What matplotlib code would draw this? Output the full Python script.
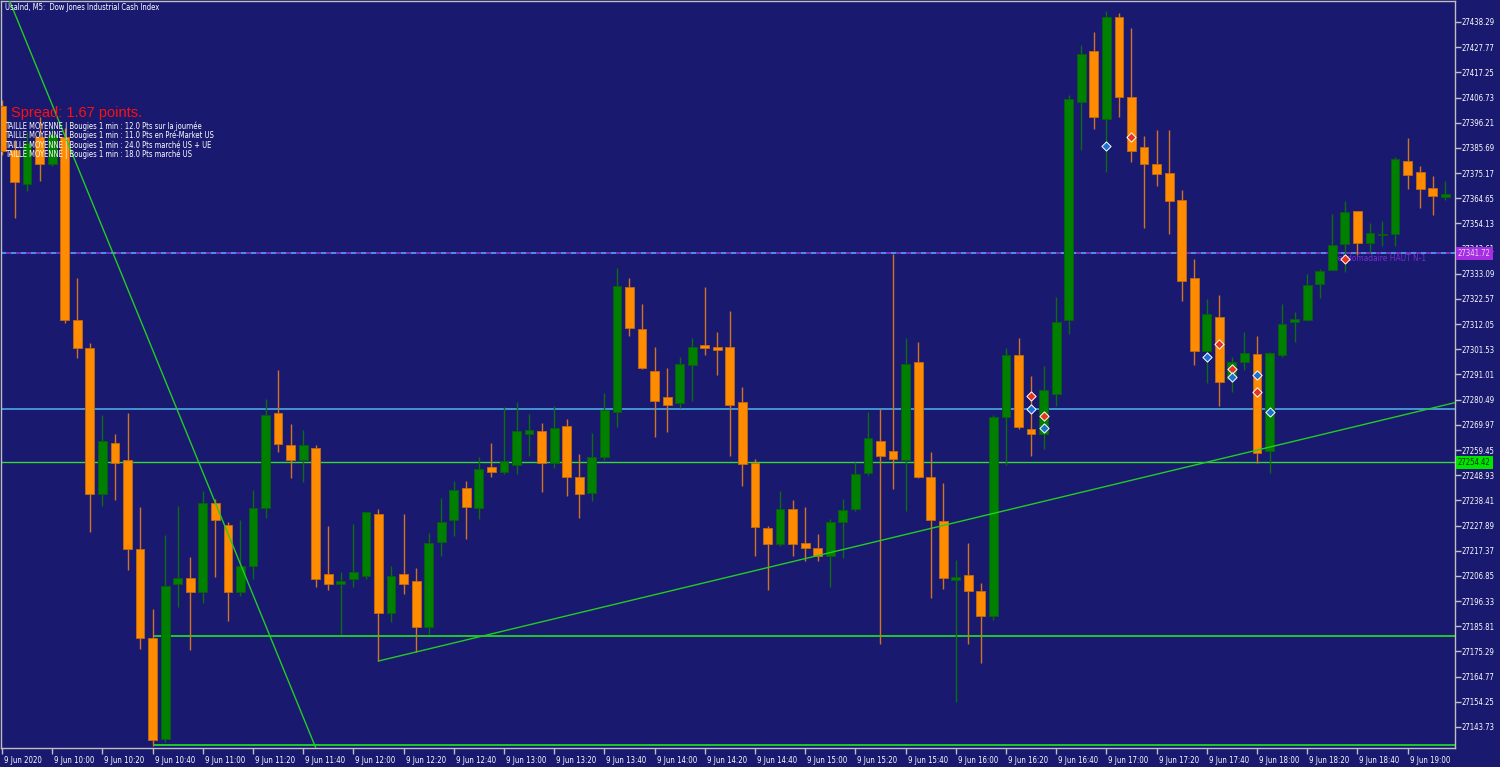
import matplotlib
matplotlib.use('agg')
import matplotlib.pyplot as plt
import matplotlib.transforms as mtransforms
import numpy as np
import pandas as pd

# UsaInd M5 - 9 juin 2020, bougies de 09:40 a 19:15
bar_times = pd.date_range('2020-06-09 09:40', periods=116, freq='5min')

opens = [27403.2, 27384.8, 27370.6, 27390.2, 27379.0, 27390.2, 27313.8, 27302.1, 27241.1, 27262.4,
         27255.3, 27218.1, 27180.9, 27138.7, 27203.5, 27206.0, 27200.1, 27237.3, 27228.1, 27200.1,
         27211.0, 27235.2, 27274.9, 27261.6, 27255.3, 27260.3, 27207.7, 27203.5, 27205.6, 27206.8,
         27232.7, 27191.4, 27207.7, 27204.7, 27185.5, 27221.0, 27230.2, 27243.6, 27235.2, 27252.4,
         27250.3, 27253.2, 27266.1, 27267.4, 27254.0, 27269.5, 27248.2, 27241.5, 27256.5, 27275.3,
         27327.6, 27310.0, 27292.5, 27281.6, 27279.1, 27295.0, 27303.3, 27302.5, 27302.5, 27279.5,
         27254.0, 27226.9, 27220.2, 27234.8, 27220.6, 27218.5, 27215.2, 27229.4, 27234.8, 27249.9,
         27263.2, 27259.0, 27255.3, 27296.2, 27248.2, 27229.8, 27205.1, 27207.2, 27200.6, 27190.1,
         27273.3, 27299.2, 27268.2, 27266.1, 27282.9, 27313.8, 27404.9, 27426.2, 27397.8, 27440.4,
         27407.0, 27386.1, 27379.0, 27375.2, 27363.9, 27331.3, 27300.8, 27315.0, 27289.1, 27296.2,
         27299.6, 27259.0, 27299.2, 27312.9, 27313.8, 27328.8, 27334.7, 27345.5, 27359.3, 27346.0,
         27349.3, 27349.7, 27380.2, 27375.6, 27368.9, 27365.2]
highs = [27405.7, 27389.0, 27392.3, 27398.6, 27394.0, 27394.0, 27331.3, 27304.2, 27274.1, 27266.1,
         27274.9, 27235.6, 27193.0, 27224.0, 27236.1, 27214.8, 27242.3, 27239.0, 27229.4, 27230.2,
         27242.7, 27280.8, 27292.9, 27270.3, 27267.8, 27261.6, 27227.7, 27208.5, 27228.5, 27233.6,
         27234.8, 27211.0, 27232.7, 27210.2, 27224.8, 27239.4, 27246.5, 27246.5, 27256.5, 27262.4,
         27277.4, 27279.5, 27274.5, 27270.7, 27277.8, 27272.4, 27257.8, 27266.6, 27283.3, 27335.5,
         27331.3, 27320.5, 27302.5, 27293.7, 27298.3, 27306.3, 27327.6, 27308.8, 27317.5, 27285.8,
         27255.7, 27227.7, 27242.3, 27238.6, 27235.6, 27224.4, 27230.6, 27239.0, 27254.5, 27275.3,
         27276.6, 27341.4, 27306.3, 27304.6, 27258.6, 27245.7, 27213.5, 27220.6, 27203.9, 27274.1,
         27302.1, 27306.3, 27290.4, 27294.6, 27323.4, 27407.8, 27428.7, 27434.1, 27442.9, 27442.0,
         27435.8, 27390.7, 27393.2, 27393.2, 27368.1, 27339.3, 27322.6, 27324.2, 27298.3, 27308.8,
         27307.1, 27300.4, 27320.5, 27317.1, 27333.0, 27335.1, 27358.1, 27363.5, 27359.5, 27354.3,
         27355.1, 27381.9, 27389.8, 27378.1, 27373.9, 27371.9]
lows = [27382.7, 27356.4, 27367.7, 27371.9, 27378.1, 27312.5, 27297.9, 27225.2, 27236.1, 27238.6,
        27209.3, 27176.3, 27135.8, 27137.5, 27193.9, 27175.9, 27195.5, 27206.4, 27188.0, 27198.5,
        27205.6, 27231.1, 27258.6, 27247.8, 27246.1, 27202.2, 27201.0, 27182.6, 27202.2, 27205.6,
        27171.3, 27187.6, 27199.3, 27175.1, 27182.6, 27215.2, 27223.5, 27222.3, 27230.6, 27248.2,
        27249.5, 27249.4, 27257.0, 27241.9, 27251.9, 27240.2, 27231.1, 27238.2, 27255.3, 27269.1,
        27307.1, 27293.3, 27264.9, 27267.0, 27277.0, 27279.9, 27299.2, 27290.8, 27257.0, 27244.4,
        27215.2, 27201.0, 27219.4, 27215.2, 27213.1, 27213.1, 27202.2, 27214.3, 27234.0, 27249.0,
        27178.4, 27243.2, 27234.0, 27247.8, 27197.6, 27201.4, 27154.2, 27178.4, 27170.5, 27188.4,
        27253.2, 27268.2, 27257.0, 27259.9, 27277.8, 27307.9, 27384.8, 27393.6, 27375.6, 27398.6,
        27379.8, 27352.2, 27369.8, 27349.7, 27321.7, 27295.0, 27287.5, 27277.8, 27283.7, 27292.9,
        27254.0, 27249.9, 27298.3, 27304.6, 27313.4, 27323.0, 27334.5, 27333.8, 27340.9, 27342.2,
        27344.7, 27344.7, 27368.5, 27360.6, 27357.6, 27363.9]
closes = [27384.4, 27371.4, 27387.7, 27379.0, 27391.1, 27313.8, 27302.1, 27241.1, 27263.2, 27254.0,
          27218.1, 27180.9, 27138.3, 27202.6, 27206.0, 27200.1, 27237.3, 27230.2, 27200.1, 27211.0,
          27235.2, 27274.1, 27262.0, 27255.3, 27261.6, 27205.6, 27203.5, 27204.7, 27208.5, 27233.6,
          27191.4, 27206.8, 27203.5, 27185.5, 27220.6, 27229.4, 27242.7, 27235.6, 27251.5, 27250.3,
          27254.9, 27267.4, 27267.8, 27254.0, 27268.7, 27248.2, 27241.1, 27256.5, 27276.2, 27328.0,
          27310.4, 27293.7, 27279.9, 27278.3, 27295.4, 27302.5, 27302.1, 27301.2, 27278.3, 27253.6,
          27227.3, 27220.2, 27234.8, 27220.2, 27218.5, 27215.2, 27229.4, 27234.4, 27249.4, 27264.5,
          27257.0, 27255.7, 27295.4, 27248.2, 27230.2, 27206.0, 27206.4, 27200.6, 27190.1, 27273.3,
          27299.2, 27269.1, 27266.1, 27284.5, 27312.9, 27406.1, 27424.9, 27398.6, 27440.4, 27407.0,
          27384.4, 27379.0, 27374.8, 27363.5, 27330.1, 27300.8, 27316.3, 27287.9, 27296.2, 27300.0,
          27258.2, 27300.0, 27312.1, 27314.2, 27328.4, 27334.3, 27345.1, 27358.9, 27346.0, 27350.1,
          27349.7, 27381.0, 27374.4, 27368.5, 27365.6, 27366.4]

# niveaux tracés sur le graphique
weekly_high = 27341.72
cyan_level = 27276.6
green_level = 27254.42
low_level_a = 27181.75
low_level_b = 27136.2
low_levels_from = 12

# lignes de tendance (bougie, prix)
steep_trend = [(9, 27339.7), (21, 27186.2)]
rising_trend = [(30, 27171.3), (100, 27259.4)]

# fleches de signal
red_bars = [82, 83, 90, 97, 98, 100, 107]
red_prices = [27282.0, 27273.7, 27390.2, 27303.7, 27293.3, 27283.7, 27339.3]
blue_bars = [82, 83, 88, 96, 98, 100, 101]
blue_prices = [27276.6, 27268.7, 27386.5, 27298.3, 27290.0, 27290.8, 27275.3]

info_lines = [
    'TAILLE MOYENNE | Bougies 1 min : 12.0 Pts sur la journée',
    'TAILLE MOYENNE | Bougies 1 min : 11.0 Pts en Pré-Market US',
    'TAILLE MOYENNE | Bougies 1 min : 24.0 Pts marché US + UE',
    'TAILLE MOYENNE | Bougies 1 min : 18.0 Pts marché US',
]

BG = '#191970'
plt.rcParams['font.family'] = ['DejaVu Sans']
plt.rcParams['font.stretch'] = 'condensed'
FS = 5.6

fig = plt.figure(figsize=(15, 7.67), dpi=100, facecolor=BG)
ax = fig.add_axes([1 / 1500, 19 / 767, 1454 / 1500, 747 / 767], facecolor=BG)

o = np.array(opens)
h = np.array(highs)
l = np.array(lows)
c = np.array(closes)
x = np.arange(len(o))
up = c >= o
dn = ~up

# meches
ax.vlines(x[up], l[up], h[up], color='#0d6e0d', lw=1, zorder=2)
ax.vlines(x[dn], l[dn], h[dn], color='#d27320', lw=1, zorder=2)
# corps
ax.bar(x[up], np.maximum(c - o, 0.6)[up], bottom=o[up], width=0.7,
       color='#008000', edgecolor='#0b5e0b', lw=0.6, zorder=3)
ax.bar(x[dn], np.maximum(o - c, 0.6)[dn], bottom=c[dn], width=0.7,
       color='#ff8c00', edgecolor='#c46a10', lw=0.6, zorder=3)

xmax = 115.78
ax.set_xlim(-0.08, xmax)
ax.set_ylim(27134.95, 27447.06)

# niveaux
ax.axhline(weekly_high, color='#8a36d6', lw=1.2, zorder=1)
ax.axhline(weekly_high, color='#3ea2e6', lw=1.2, ls=(0, (3, 3)), zorder=1)
ax.axhline(cyan_level, color='#52b4ee', lw=1.1, zorder=1)
ax.axhline(green_level, color='#36d836', lw=1, zorder=1)
ax.hlines([low_level_a, low_level_b], low_levels_from, xmax, color='#22e622', lw=1.2, zorder=1)

# tendances
ax.axline(steep_trend[0], steep_trend[1], color='#22cc22', lw=1, zorder=4)
(x1, y1), (x2, y2) = rising_trend
slope = (y2 - y1) / (x2 - x1)
ax.plot([x1, xmax], [y1, y1 + slope * (xmax - x1)], color='#22cc22', lw=1, zorder=4)

# signaux
ax.scatter(red_bars, red_prices, marker='D', s=22, color='#e8341c', edgecolor='white', lw=0.7, zorder=6)
ax.scatter(blue_bars, blue_prices, marker='D', s=22, color='#1f6fd0', edgecolor='white', lw=0.7, zorder=6)

ax.text(105.95, weekly_high - 2.2, 'Hebdomadaire HAUT N-1', color='#7a2ccc', fontsize=6.0,
        va='center', ha='left', zorder=2.5)

# axe des prix
ticks = np.round(27143.73 + 10.52 * np.arange(29), 2)
ax.yaxis.tick_right()
ax.set_yticks(ticks)
ax.set_yticklabels(['%.2f' % t for t in ticks])
ax.tick_params(axis='y', colors='#c0c0c0', labelcolor='white', length=4, width=1, pad=0.5, labelsize=FS)

# axe du temps
labels = ['9 Jun 2020'] + ['%d Jun %s' % (t.day, t.strftime('%H:%M')) for t in bar_times[4::4]]
ax.set_xticks(x[::4])
ax.set_xticklabels(labels[:len(x[::4])])
ax.tick_params(axis='x', colors='#c0c0c0', labelcolor='white', length=4, width=1, pad=1.5, labelsize=FS)
shift = mtransforms.ScaledTranslation(2 / 100, 0, fig.dpi_scale_trans)
for lab in ax.get_xticklabels():
    lab.set_ha('left')
    lab.set_transform(lab.get_transform() + shift)

for s in ax.spines.values():
    s.set_color('#c0c0c0')
    s.set_linewidth(1)

# etiquettes de prix
trans = mtransforms.blended_transform_factory(ax.transAxes, ax.transData)
ax.text(1.002, weekly_high, '%.2f' % weekly_high, transform=trans, va='center', ha='left',
        fontsize=FS, color='#e8d0ff', clip_on=False, zorder=10,
        bbox=dict(boxstyle='square,pad=0.25', fc='#a52ee0', ec='none'))
ax.text(1.002, green_level, '%.2f' % green_level, transform=trans, va='center', ha='left',
        fontsize=FS, color='#003000', clip_on=False, zorder=10,
        bbox=dict(boxstyle='square,pad=0.25', fc='#00e400', ec='none'))

# textes en haut a gauche
fig.text(5 / 1500, 1 - 7 / 767, 'UsaInd, M5:  Dow Jones Industrial Cash Index', color='white',
         fontsize=5.5, va='center', ha='left')
fig.text(11 / 1500, 1 - 113 / 767, 'Spread: 1.67 points.', color='#ff1010', fontsize=10.5,
         va='center', ha='left', family=['Liberation Sans', 'DejaVu Sans'], stretch='normal')
for k, line in enumerate(info_lines):
    fig.text(5 / 1500, 1 - (126 + 9.5 * k) / 767, line, color='white', fontsize=5.5,
             va='center', ha='left')

fig.savefig('out.png', dpi=100, facecolor=BG)
